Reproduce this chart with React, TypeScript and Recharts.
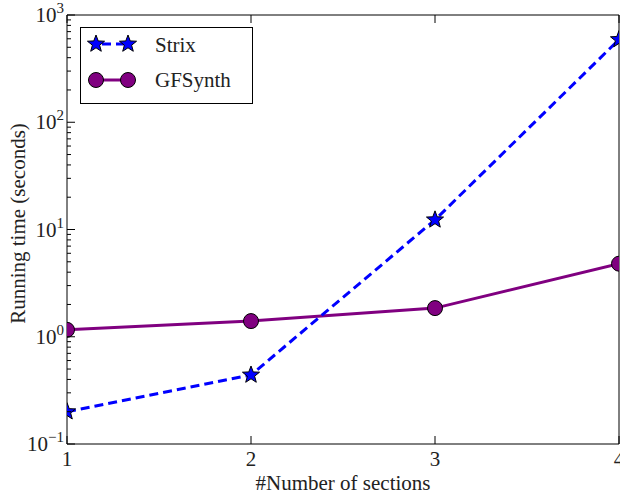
import React from "react";

import { Legend, Line, LineChart, XAxis, YAxis } from "recharts";

// values (log scale)
const sections = [1, 2, 3, 4];
const strixTimes = [0.2, 0.44, 12.3, 590];
const gfsynthTimes = [1.16, 1.4, 1.85, 4.8];
const seriesNames = ["Strix", "GFSynth"];

const xTicks = [1, 2, 3, 4];
const yMajorTicks = [0.1, 1, 10, 100, 1000];
const yExponents = ["\u22121", "0", "1", "2", "3"];
const yMinorTicks = [
    0.2, 0.3, 0.4, 0.5, 0.6, 0.7, 0.8, 0.9,
    2, 3, 4, 5, 6, 7, 8, 9,
    20, 30, 40, 50, 60, 70, 80, 90,
    200, 300, 400, 500, 600, 700, 800, 900,
];

const COLORS = {
    strix: "#0000ff",
    gfsynth: "#800080",
};

const FONT = "'Liberation Serif', 'DejaVu Serif', serif";
const DASH = "9 5";

const data = sections.map((n, i) => ({ n, strix: strixTimes[i], gfsynth: gfsynthTimes[i] }));
const yTicks = [...yMajorTicks, ...yMinorTicks].sort((a, b) => a - b);

function starPoints(cx: number, cy: number, outer: number, inner: number) {
    const pts: string[] = [];
    for (let k = 0; k < 10; k++) {
        const r = k % 2 === 0 ? outer : inner;
        const a = -Math.PI / 2 + (k * Math.PI) / 5;
        pts.push(`${cx + r * Math.cos(a)},${cy + r * Math.sin(a)}`);
    }
    return pts.join(" ");
}

function Star({ cx, cy }: { cx: number; cy: number }) {
    return <polygon points={starPoints(cx, cy, 9, 3.8)} fill={COLORS.strix} stroke="#000" strokeWidth={1} />;
}

function Circle({ cx, cy }: { cx: number; cy: number }) {
    return <circle cx={cx} cy={cy} r={7.5} fill={COLORS.gfsynth} stroke="#000" strokeWidth={1} />;
}

function YTick(props: any) {
    const { x, y, payload, side } = props;
    const dir = side === "left" ? 1 : -1;
    const idx = yMajorTicks.indexOf(payload.value);
    if (idx < 0) {
        return <line x1={x} x2={x + dir * 4} y1={y} y2={y} stroke="#000" strokeWidth={1} />;
    }
    return (
        <g>
            <line x1={x} x2={x + dir * 8} y1={y} y2={y} stroke="#000" strokeWidth={1} />
            {side === "left" && (
                <text x={x - 3} y={y + 7} textAnchor="end" fontFamily={FONT} fontSize={21} fill="#222">
                    10
                    <tspan dy={-9} fontSize={15}>
                        {yExponents[idx]}
                    </tspan>
                </text>
            )}
        </g>
    );
}

function XTick(props: any) {
    const { x, y, payload, side } = props;
    const dir = side === "bottom" ? -1 : 1;
    return (
        <g>
            <line x1={x} x2={x} y1={y} y2={y + dir * 8} stroke="#000" strokeWidth={1} />
            {side === "bottom" && (
                <text x={x} y={y + 22} textAnchor="middle" fontFamily={FONT} fontSize={21} fill="#222">
                    {payload.value}
                </text>
            )}
        </g>
    );
}

function LegendBox() {
    return (
        <svg width={173} height={77} style={{ display: "block" }}>
            <rect x={0.5} y={0.5} width={172} height={76} fill="#fff" stroke="#000" strokeWidth={1} />
            <line x1={16} x2={48} y1={17} y2={17} stroke={COLORS.strix} strokeWidth={3} strokeDasharray={DASH} strokeDashoffset={-6} />
            <Star cx={16} cy={17} />
            <Star cx={48} cy={17} />
            <text x={75} y={25} fontFamily={FONT} fontSize={21} fill="#222">
                {seriesNames[0]}
            </text>
            <line x1={16} x2={48} y1={53} y2={53} stroke={COLORS.gfsynth} strokeWidth={3} />
            <Circle cx={16} cy={53} />
            <Circle cx={48} cy={53} />
            <text x={75} y={60} fontFamily={FONT} fontSize={21} fill="#222">
                {seriesNames[1]}
            </text>
        </svg>
    );
}

export default function App() {
    return (
        <div style={{ position: "absolute", left: 0, top: 0, width: 620, height: 498, background: "#fff" }}>
            <LineChart width={620} height={498} data={data} margin={{ top: 0, right: 0, bottom: 0, left: 0 }}>
                <XAxis
                    dataKey="n"
                    type="number"
                    domain={[1, 4]}
                    allowDataOverflow
                    ticks={xTicks}
                    interval={0}
                    height={54}
                    tickSize={0}
                    tickMargin={0}
                    tickLine={false}
                    axisLine={{ stroke: "#000", strokeWidth: 1 }}
                    tick={<XTick side="bottom" />}
                    label={({ viewBox }: any) => (
                        <text
                            x={viewBox.x + viewBox.width / 2}
                            y={viewBox.y + 46}
                            textAnchor="middle"
                            fontFamily={FONT}
                            fontSize={21}
                            fill="#222"
                        >
                            #Number of sections
                        </text>
                    )}
                />
                <XAxis
                    xAxisId="top"
                    orientation="top"
                    dataKey="n"
                    type="number"
                    domain={[1, 4]}
                    ticks={xTicks}
                    interval={0}
                    height={15}
                    tickSize={0}
                    tickMargin={0}
                    tickLine={false}
                    axisLine={{ stroke: "#000", strokeWidth: 1 }}
                    tick={<XTick side="top" />}
                />
                <YAxis
                    scale="log"
                    type="number"
                    domain={[0.1, 1000]}
                    ticks={yTicks}
                    interval={0}
                    width={67}
                    tickSize={0}
                    tickMargin={0}
                    tickLine={false}
                    axisLine={{ stroke: "#000", strokeWidth: 1 }}
                    tick={<YTick side="left" />}
                    label={({ viewBox }: any) => {
                        const cx = 25;
                        const cy = viewBox.y + viewBox.height / 2 - 6;
                        return (
                            <text
                                x={cx}
                                y={cy}
                                transform={`rotate(-90 ${cx} ${cy})`}
                                textAnchor="middle"
                                fontFamily={FONT}
                                fontSize={21}
                                fill="#222"
                            >
                                Running time (seconds)
                            </text>
                        );
                    }}
                />
                <YAxis
                    yAxisId="right"
                    orientation="right"
                    scale="log"
                    type="number"
                    domain={[0.1, 1000]}
                    ticks={yTicks}
                    interval={0}
                    width={1}
                    tickSize={0}
                    tickMargin={0}
                    tickLine={false}
                    axisLine={{ stroke: "#000", strokeWidth: 1 }}
                    tick={<YTick side="right" />}
                />
                <Legend
                    layout="vertical"
                    align="center"
                    verticalAlign="middle"
                    wrapperStyle={{ left: 80, top: 27, width: 173, height: 77 }}
                    content={() => <LegendBox />}
                />
                <Line
                    dataKey="gfsynth"
                    name={seriesNames[1]}
                    type="linear"
                    stroke={COLORS.gfsynth}
                    strokeWidth={3}
                    dot={(p: any) => <Circle key={`g${p.index}`} cx={p.cx} cy={p.cy} />}
                    isAnimationActive={false}
                />
                <Line
                    dataKey="strix"
                    name={seriesNames[0]}
                    type="linear"
                    stroke={COLORS.strix}
                    strokeWidth={3}
                    strokeDasharray={DASH}
                    dot={(p: any) => <Star key={`s${p.index}`} cx={p.cx} cy={p.cy} />}
                    isAnimationActive={false}
                />
            </LineChart>
        </div>
    );
}
